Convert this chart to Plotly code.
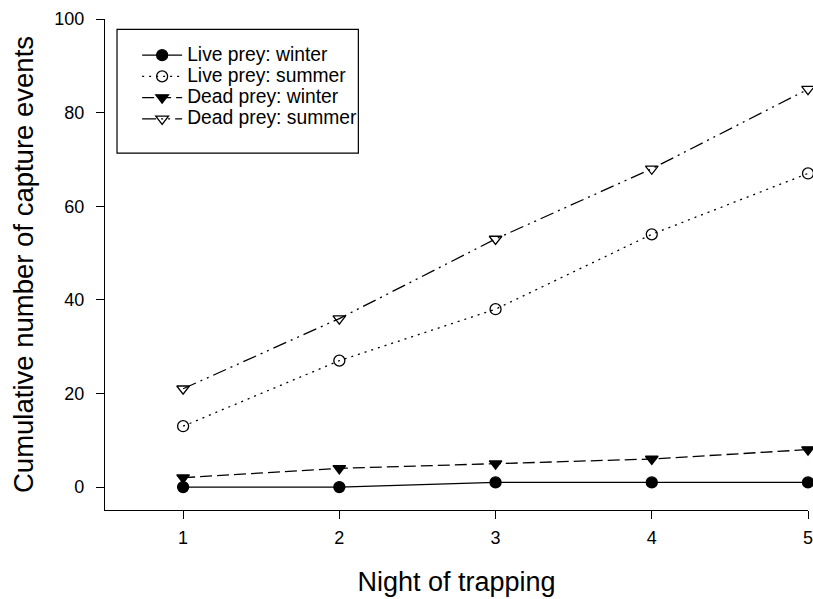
import plotly.graph_objects as go

nights = [1, 2, 3, 4, 5]
live_winter = [0, 0, 1, 1, 1]
live_summer = [13, 27, 38, 54, 67]
dead_winter = [2, 4, 5, 6, 8]
dead_summer = [21, 36, 53, 68, 85]

x_ticks = [1, 2, 3, 4, 5]
y_ticks = [0, 20, 40, 60, 80, 100]

series = [
    ("Live prey: winter", live_winter, "solid", "circle"),
    ("Live prey: summer", live_summer, "2px,5px", "circle-open"),
    ("Dead prey: winter", dead_winter, "12px,5px", "triangle-down"),
    ("Dead prey: summer", dead_summer, "14px,5px,2px,5px,2px,5px", "triangle-down-open"),
]

FONT = "Liberation Sans, Arial, Helvetica, sans-serif"

fig = go.Figure()
for name, vals, dash, sym in series:
    fig.add_trace(go.Scatter(
        x=nights, y=vals, name='<span style="font-size:19.3px">' + name + '</span>',
        mode="lines+markers",
        line=dict(color="black", width=1.3, dash=dash),
        marker=dict(symbol=sym, size=11, color="black",
                    line=dict(color="black", width=1.3)),
        cliponaxis=False,
    ))

fig.update_layout(
    width=813, height=599,
    margin=dict(l=105, r=5, t=19, b=89, autoexpand=False),
    paper_bgcolor="white", plot_bgcolor="white",
    font=dict(family=FONT, color="black", size=18),
    showlegend=True,
    legend=dict(
        x=0.0457, y=0.958, xanchor="left", yanchor="top",
        bgcolor="rgba(0,0,0,0)", borderwidth=0,
        font=dict(family=FONT, size=14, color="black"),
        itemwidth=40, tracegroupgap=0,
    ),
    shapes=[dict(type="rect", xref="paper", yref="paper",
                 x0=0.0171, x1=0.3604, y0=0.727, y1=0.979,
                 line=dict(color="black", width=1.2), fillcolor="rgba(0,0,0,0)")],
)

fig.update_xaxes(
    range=[0.5, 5.0], tickvals=x_ticks, ticktext=[str(v) for v in x_ticks],
    automargin=False, ticklabeloverflow="allow",
    showgrid=False, zeroline=False, showline=True, linecolor="black", linewidth=1.2,
    ticks="outside", ticklen=8, tickcolor="black", tickwidth=1.2,
    ticklabelstandoff=3,
    tickfont=dict(size=18, family=FONT, color="black"),
    title=dict(text="Night of trapping", font=dict(size=27, family=FONT, color="black"), standoff=25),
)
fig.update_yaxes(
    range=[-4.9, 100], tickvals=y_ticks, ticktext=[str(v) for v in y_ticks],
    automargin=False,
    showgrid=False, zeroline=False, showline=True, linecolor="black", linewidth=1.2,
    ticks="outside", ticklen=8, tickcolor="black", tickwidth=1.2,
    ticklabelstandoff=8,
    tickfont=dict(size=18, family=FONT, color="black"),
    title=dict(text="Cumulative number of capture events", font=dict(size=27.5, family=FONT, color="black"), standoff=12),
)

fig.write_html("out.html", config={"displayModeBar": False},
               post_script="document.body.style.margin='0';")
